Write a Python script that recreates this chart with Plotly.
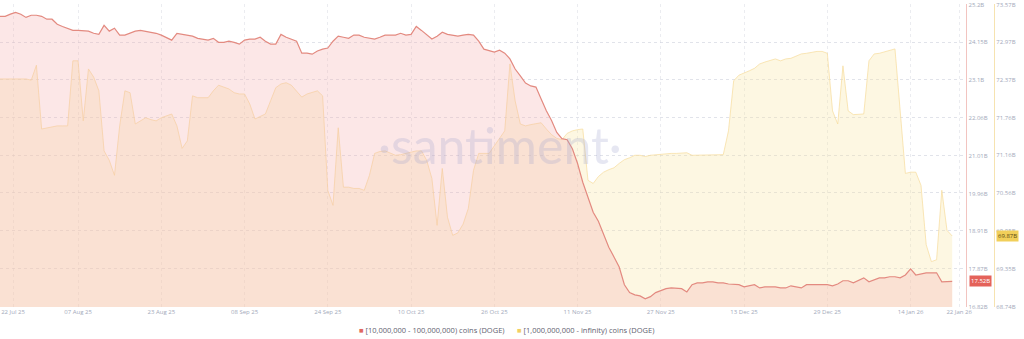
import pandas as pd
import plotly.graph_objects as go

start_date = "2025-07-23"

# [10,000,000 - 100,000,000) coins (DOGE) — billions of DOGE held (red axis)
red_values = [
    24.87, 24.87, 24.93, 24.98, 24.93, 24.84, 24.90, 24.90, 24.87, 24.79,
    24.79, 24.65, 24.59, 24.54, 24.48, 24.48, 24.48, 24.46, 24.40, 24.37,
    24.62, 24.46, 24.54, 24.35, 24.35, 24.40, 24.46, 24.48, 24.46, 24.43,
    24.40, 24.35, 24.29, 24.21, 24.40, 24.37, 24.35, 24.32, 24.26, 24.24,
    24.21, 24.26, 24.15, 24.15, 24.18, 24.15, 24.10, 24.21, 24.24, 24.24,
    24.29, 24.18, 24.10, 24.10, 24.37, 24.29, 24.24, 24.18, 23.85, 23.85,
    23.82, 23.91, 23.96, 23.99, 24.18, 24.32, 24.29, 24.26, 24.35, 24.35,
    24.29, 24.26, 24.24, 24.29, 24.35, 24.35, 24.35, 24.40, 24.35, 24.37,
    24.59, 24.48, 24.35, 24.24, 24.32, 24.43, 24.37, 24.35, 24.32, 24.35,
    24.37, 24.35, 24.18, 23.96, 23.91, 23.88, 23.93, 23.85, 23.69, 23.41,
    23.22, 23.02, 22.94, 22.91, 22.58, 22.25, 21.98, 21.65, 21.48, 21.45,
    21.20, 20.79, 20.27, 19.83, 19.44, 19.19, 18.83, 18.47, 18.20, 17.92,
    17.43, 17.21, 17.15, 17.12, 17.04, 17.10, 17.21, 17.26, 17.32, 17.34,
    17.34, 17.32, 17.23, 17.43, 17.48, 17.48, 17.51, 17.51, 17.48, 17.48,
    17.45, 17.45, 17.43, 17.37, 17.40, 17.43, 17.34, 17.37, 17.37, 17.37,
    17.34, 17.34, 17.40, 17.37, 17.34, 17.43, 17.43, 17.45, 17.45, 17.43,
    17.40, 17.45, 17.54, 17.54, 17.48, 17.54, 17.62, 17.51, 17.56, 17.62,
    17.62, 17.65, 17.65, 17.62, 17.70, 17.87, 17.70, 17.73, 17.76, 17.76,
    17.76, 17.51, 17.52, 17.52,
]

# [1,000,000,000 - infinity) coins (DOGE) — billions of DOGE held (yellow axis)
yellow_values = [
    72.38, 72.38, 72.38, 72.38, 72.38, 72.38, 72.36, 72.60, 71.58, 71.60,
    71.62, 71.63, 71.63, 71.63, 72.67, 72.67, 71.71, 72.54, 72.41, 72.19,
    71.23, 71.08, 70.84, 71.63, 72.19, 72.16, 71.66, 71.71, 71.76, 71.73,
    71.71, 71.76, 71.79, 71.82, 71.63, 71.27, 71.39, 72.11, 72.08, 72.08,
    72.08, 72.19, 72.28, 72.25, 72.22, 72.16, 72.14, 72.14, 71.98, 71.74,
    71.78, 71.82, 72.03, 72.24, 72.30, 72.32, 72.28, 72.19, 72.09, 72.14,
    72.17, 72.19, 72.11, 70.60, 70.36, 71.60, 70.65, 70.65, 70.63, 70.63,
    70.60, 70.84, 71.19, 71.22, 71.23, 71.20, 71.16, 71.17, 71.19, 71.20,
    71.23, 71.23, 71.08, 70.79, 70.04, 70.95, 70.17, 69.88, 69.92, 70.06,
    70.31, 70.92, 71.19, 71.19, 71.19, 71.31, 71.43, 71.55, 72.62, 72.03,
    71.66, 71.63, 71.65, 71.66, 71.68, 71.58, 71.49, 71.43, 71.41, 71.51,
    71.55, 71.57, 71.58, 70.76, 70.71, 70.82, 70.89, 70.93, 70.96, 71.03,
    71.09, 71.12, 71.16, 71.16, 71.14, 71.16, 71.17, 71.17, 71.19, 71.19,
    71.19, 71.20, 71.20, 71.16, 71.16, 71.16, 71.16, 71.16, 71.17, 71.17,
    71.55, 72.35, 72.44, 72.47, 72.51, 72.55, 72.62, 72.65, 72.67, 72.70,
    72.67, 72.70, 72.71, 72.74, 72.78, 72.79, 72.81, 72.82, 72.82, 72.79,
    71.87, 71.66, 72.59, 71.87, 71.81, 71.82, 71.82, 72.67, 72.78, 72.79,
    72.81, 72.84, 72.86, 71.87, 70.87, 70.89, 70.89, 70.68, 69.73, 69.46,
    69.49, 70.60, 69.96, 69.87,
]

red_name = "[10,000,000 - 100,000,000) coins (DOGE)"
yellow_name = "[1,000,000,000 - infinity) coins (DOGE)"

red_ticks = [16.82, 17.87, 18.91, 19.96, 21.01, 22.06, 23.10, 24.15, 25.20]
red_ticktext = ["16.82B", "17.87B", "18.91B", "19.96B", "21.01B", "22.06B", "23.1B", "24.15B", "25.2B"]
yellow_ticks = [68.74, 69.35, 69.95, 70.56, 71.16, 71.76, 72.37, 72.97, 73.57]
yellow_ticktext = ["68.74B", "69.35B", "69.95B", "70.56B", "71.16B", "71.76B", "72.37B", "72.97B", "73.57B"]

x_tickvals = ["2025-07-25 12:00", "2025-08-07", "2025-08-23", "2025-09-08", "2025-09-24", "2025-10-10",
              "2025-10-26", "2025-11-11", "2025-11-27", "2025-12-13", "2025-12-29", "2026-01-14",
              "2026-01-23 08:00"]
x_ticktext = ["22 Jul 25", "07 Aug 25", "23 Aug 25", "08 Sep 25", "24 Sep 25", "10 Oct 25",
              "26 Oct 25", "11 Nov 25", "27 Nov 25", "13 Dec 25", "29 Dec 25", "14 Jan 26",
              "22 Jan 26"]

dates = pd.date_range(start_date, periods=len(red_values), freq="D")

W, H = 1024, 339
plot_right = 972 / W
yellow_axis_pos = 1000 / W

fig = go.Figure()

fig.add_trace(go.Scatter(
    x=dates, y=yellow_values, name=yellow_name, yaxis="y",
    mode="lines", fill="tozeroy",
    line=dict(color="rgba(247,222,160,0.75)", width=1),
    fillcolor="rgba(250,228,160,0.30)",
    showlegend=False, hoverinfo="skip",
))
fig.add_trace(go.Scatter(
    x=dates, y=red_values, name=red_name, yaxis="y2",
    mode="lines", fill="tozeroy",
    line=dict(color="#e38a80", width=1.2),
    fillcolor="rgba(245,175,175,0.30)",
    showlegend=False, hoverinfo="skip",
))

tick_font = dict(family="Open Sans, Lato, sans-serif", size=6, color="#a3a9ba")

fig.update_layout(
    width=W, height=H,
    margin=dict(l=0, r=0, t=4, b=32),
    paper_bgcolor="white", plot_bgcolor="white",
    showlegend=False,
    xaxis=dict(
        domain=[0, plot_right],
        range=["2025-07-23", "2026-01-24 17:00"],
        tickvals=x_tickvals, ticktext=x_ticktext,
        tickfont=tick_font, ticks="",
        showgrid=True, gridcolor="rgba(210,212,222,0.45)", griddash="dot", gridwidth=1,
        showline=False, zeroline=False, anchor="y",
    ),
    yaxis=dict(
        range=[68.735, 73.578],
        tickvals=yellow_ticks, ticktext=yellow_ticktext,
        side="right", anchor="free", position=yellow_axis_pos,
        tickfont=tick_font, ticks="",
        showline=True, linecolor="#f6e3b0", linewidth=1,
        showgrid=True, gridcolor="rgba(205,208,220,0.6)", griddash="dot", gridwidth=1,
        zeroline=False,
    ),
    yaxis2=dict(
        range=[16.812, 25.212],
        tickvals=red_ticks, ticktext=red_ticktext,
        side="right", anchor="free", position=plot_right, overlaying="y",
        tickfont=tick_font, ticks="",
        showline=True, linecolor="#f2c4c0", linewidth=1,
        showgrid=False, zeroline=False,
    ),
    annotations=[
        dict(text="·santiment·", xref="paper", yref="paper", x=503 / W, y=0.535,
             showarrow=False, font=dict(family="Lato, Open Sans, sans-serif", size=50,
                                        color="rgba(160,163,205,0.26)")),
        dict(text=f"{red_values[-1]:.2f}B", xref="paper", yref="y2", x=975 / W, y=red_values[-1],
             xanchor="left", showarrow=False, bgcolor="#e4625a", borderpad=1,
             font=dict(family="Open Sans, sans-serif", size=6, color="white")),
        dict(text=f"{yellow_values[-1]:.2f}B", xref="paper", yref="y", x=1002 / W, y=yellow_values[-1],
             xanchor="left", showarrow=False, bgcolor="#f1cf5a", borderpad=1,
             font=dict(family="Open Sans, sans-serif", size=6, color="#5b4a12")),
        dict(text="<span style='color:#e0675e'>■</span> " + red_name, xref="paper", yref="paper",
             x=359 / W, y=-0.075, xanchor="left", yanchor="middle", showarrow=False,
             font=dict(family="Open Sans, Lato, sans-serif", size=7.5, color="#5f6270")),
        dict(text="<span style='color:#f2cf63'>■</span> " + yellow_name, xref="paper", yref="paper",
             x=518 / W, y=-0.075, xanchor="left", yanchor="middle", showarrow=False,
             font=dict(family="Open Sans, Lato, sans-serif", size=7.5, color="#5f6270")),
    ],
)

fig.write_html("out.html")
